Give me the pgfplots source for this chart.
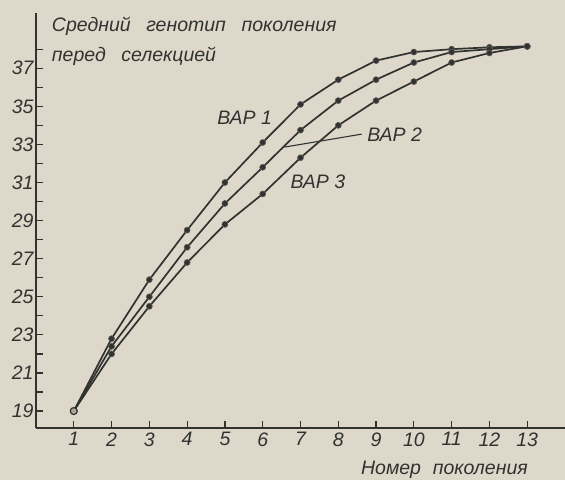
\documentclass[border=0pt]{standalone}
\usepackage{pgfplots}
\pgfplotsset{compat=1.18}
\usepackage{fontspec}
\setmainfont{Liberation Sans}
\usetikzlibrary{backgrounds,calc}
\definecolor{bgc}{RGB}{221,216,201}
\definecolor{lc}{RGB}{50,50,48}
\pgfplotstableread{
x v1 v2 v3
1 19.0 19.0 19.0
2 22.8 22.4 22.0
3 25.9 25.0 24.5
4 28.5 27.6 26.8
5 31.0 29.9 28.8
6 33.1 31.8 30.4
7 35.1 33.75 32.3
8 36.4 35.3 34.0
9 37.4 36.4 35.3
10 37.85 37.3 36.3
11 38.0 37.85 37.3
12 38.1 38.0 37.8
13 38.15 38.15 38.15
}\datatab
\begin{document}
\begin{tikzpicture}
\begin{axis}[name=ax, scale only axis, width=529pt, height=415pt,
  xmin=0, xmax=14, ymin=18.11, ymax=39.9,
  axis x line*=bottom, axis y line*=left,
  axis line style={line width=1.4pt, draw=lc},
  xtick={1,...,13}, ytick={19,21,...,37}, minor ytick={20,22,...,38},
  tick align=inside, major tick length=7pt, minor tick length=7pt,
  tick style={line width=1.2pt, draw=lc},
  /pgf/number format/assume math mode=true,
  tick label style={font=\itshape\fontsize{19.5}{20}\selectfont, text=lc},
  xticklabel style={yshift=-1pt},
  yticklabel style={xshift=1pt},
  clip=false]
\addplot[line width=1.7pt, draw=lc, mark=*, mark size=3pt, mark options={fill=lc, draw=lc!80, line width=0.6pt}] table[x=x,y=v1] {\datatab};
\addplot[line width=1.7pt, draw=lc, mark=*, mark size=3pt, mark options={fill=lc, draw=lc!80, line width=0.6pt}] table[x=x,y=v2] {\datatab};
\addplot[line width=1.7pt, draw=lc, mark=*, mark size=3pt, mark options={fill=lc, draw=lc!80, line width=0.6pt}] table[x=x,y=v3] {\datatab};
\addplot[only marks, mark=*, mark size=3.5pt, mark options={fill=bgc!70!lc, draw=lc, line width=1.2pt}] coordinates {(1,19)};
\draw[line width=1.1pt, draw=lc] (axis cs:6.58,32.86) -- (axis cs:8.62,33.54);
\node[text=lc, font=\itshape\fontsize{19.5}{20}\selectfont] at (axis cs:5.52,34.38) {ВАР 1};
\node[text=lc, font=\itshape\fontsize{19.5}{20}\selectfont] at (axis cs:9.49,33.49) {ВАР 2};
\node[text=lc, font=\itshape\fontsize{19.5}{20}\selectfont] at (axis cs:7.46,31.02) {ВАР 3};
\node[text=lc, font=\itshape\fontsize{19.5}{20}\selectfont] at (axis cs:10.81,15.9) {Номер\hspace{0.6em}поколения};
\node[text=lc, anchor=base west, font=\itshape\fontsize{19.5}{20}\selectfont, inner sep=0pt] at (axis cs:0.418,38.95) {Средний\hspace{0.8em}генотип\hspace{0.8em}поколения};
\node[text=lc, anchor=base west, font=\itshape\fontsize{19.5}{20}\selectfont, inner sep=0pt] at (axis cs:0.418,37.35) {перед\hspace{0.8em}селекцией};
\end{axis}
\begin{pgfonlayer}{background}
\fill[bgc] ($(ax.south west)+(-36pt,-52pt)$) rectangle ($(ax.north east)+(0pt,13pt)$);
\end{pgfonlayer}
\pgfresetboundingbox
\path[use as bounding box] ($(ax.south west)+(-36pt,-52pt)$) rectangle ($(ax.north east)+(0pt,13pt)$);
\end{tikzpicture}
\end{document}
